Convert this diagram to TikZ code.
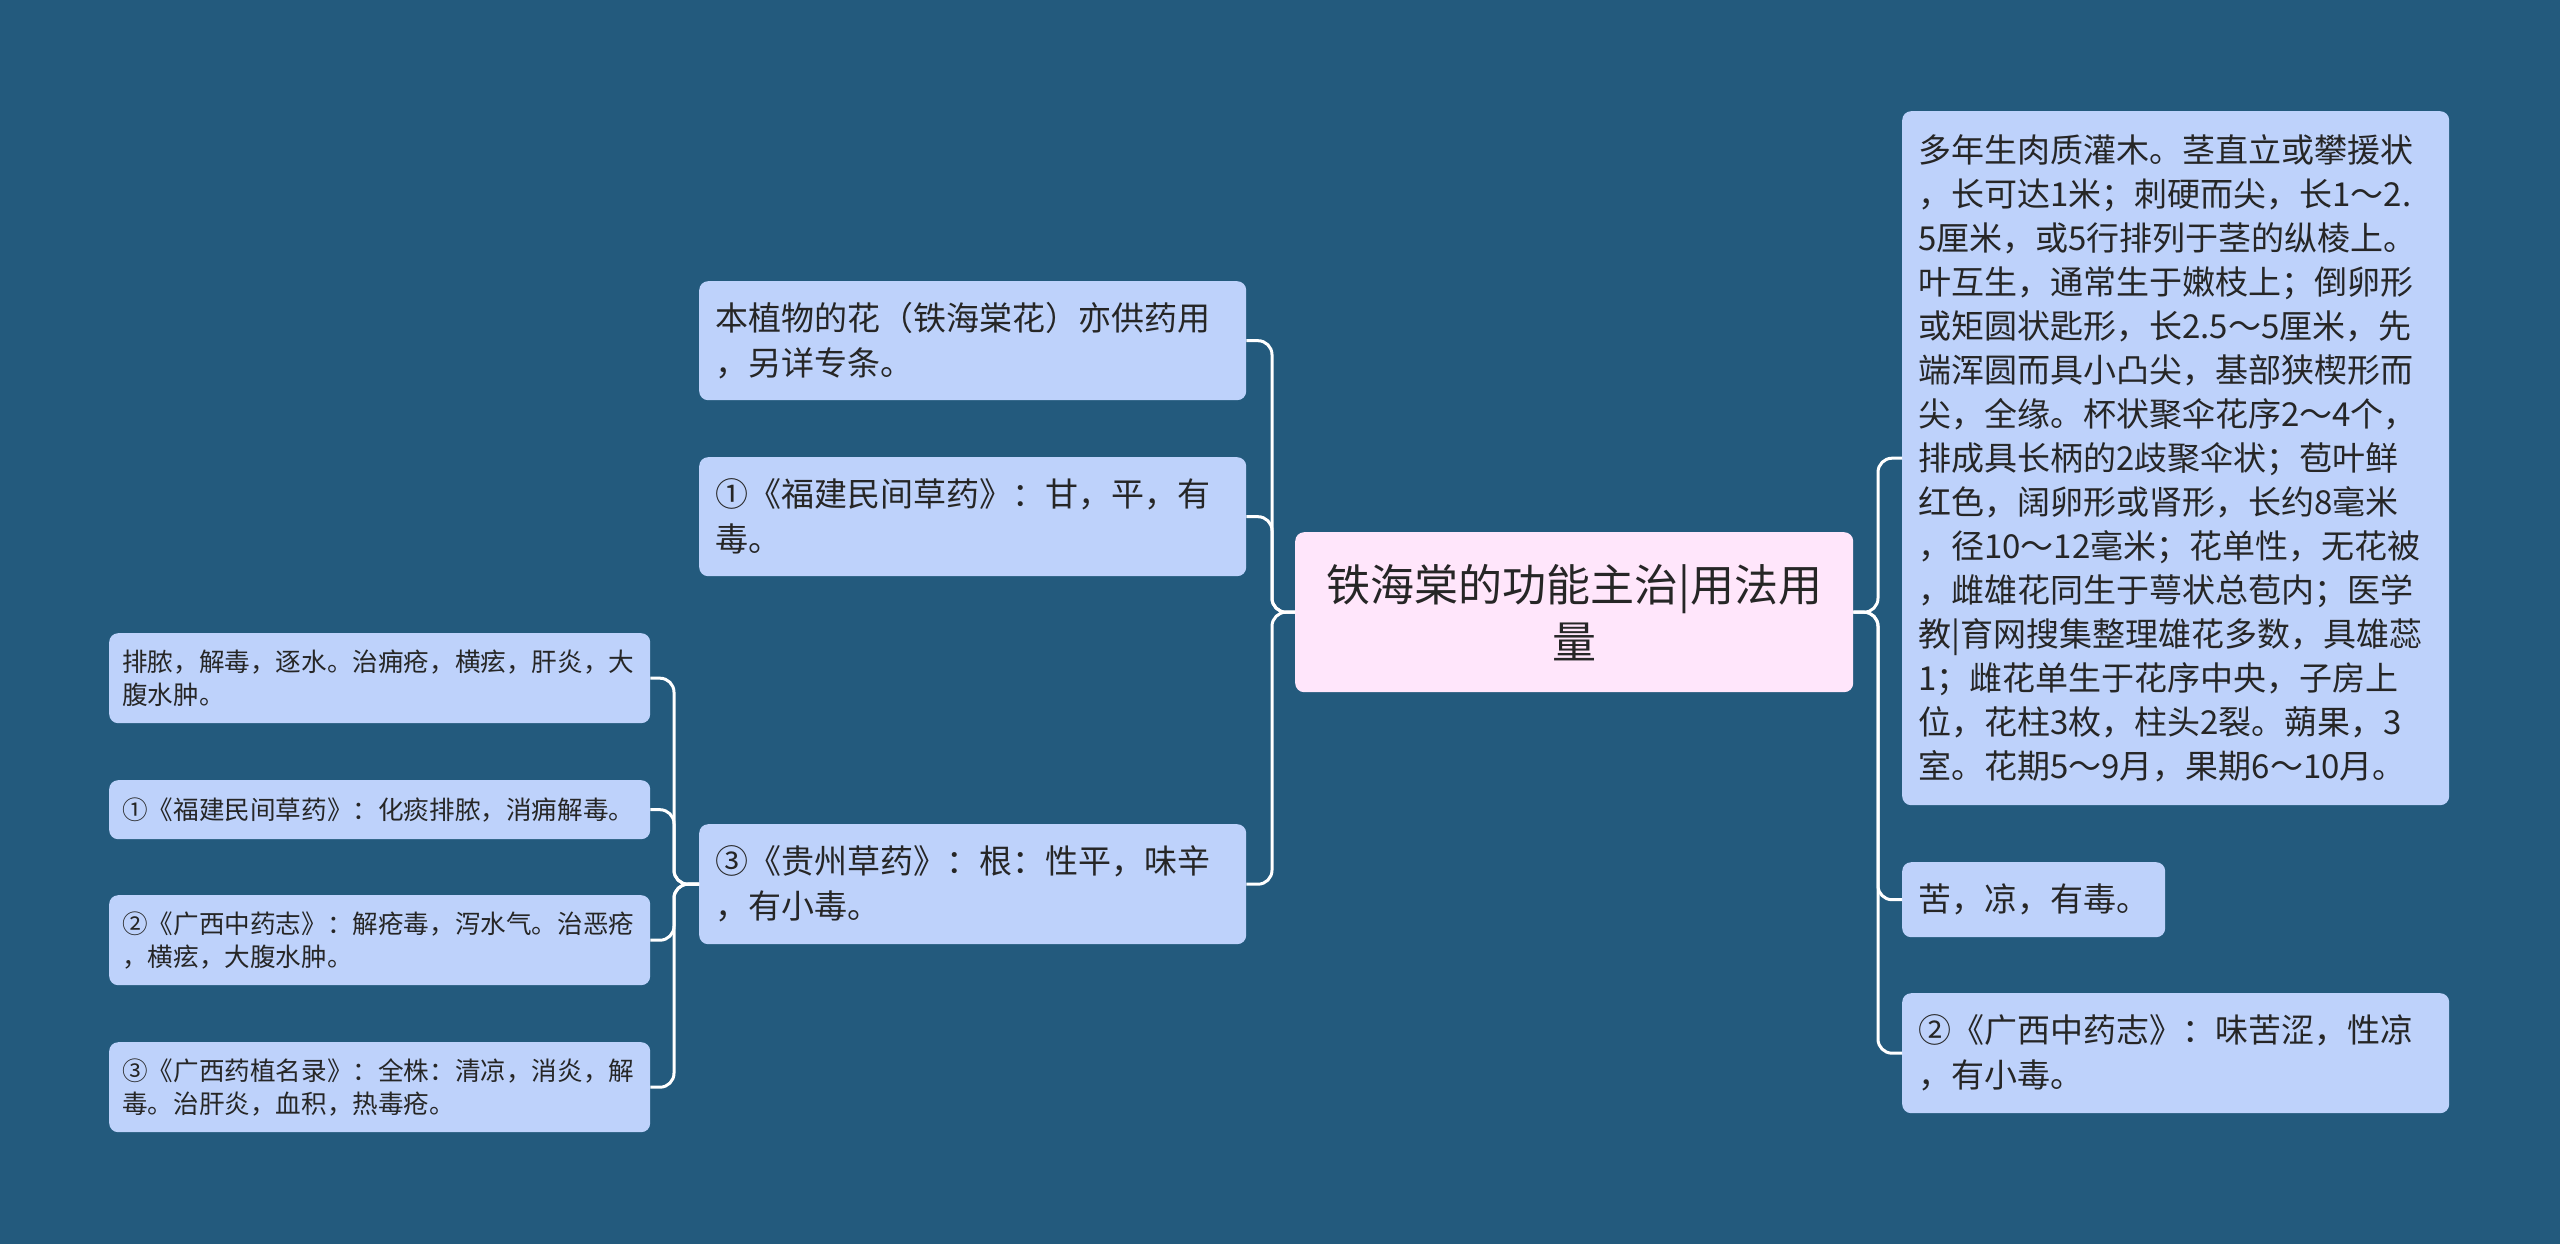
\documentclass[tikz,border=0pt]{standalone}
\usepackage{fontspec}
\setmainfont{Noto Sans CJK SC}
\definecolor{bg}{HTML}{235A7D}
\definecolor{nodefill}{HTML}{BED2FB}
\definecolor{rootfill}{HTML}{FFE6FB}
\definecolor{txt}{HTML}{262626}
\tikzset{
  box/.style={fill=nodefill, rounded corners=9pt, anchor=north west, align=left, inner ysep=0pt, text=txt},
  lone/.style={box, font=\fontsize{33}{45}\selectfont, inner xsep=16pt},
  ltwo/.style={box, font=\fontsize{25.6}{33}\selectfont, inner xsep=13pt},
  rootbox/.style={fill=rootfill, rounded corners=9pt, anchor=north west, align=center, inner xsep=10pt, inner ysep=0pt, text=txt, font=\fontsize{44}{57}\selectfont},
  conn/.style={draw=white, line width=3pt, rounded corners=14pt}
}
\begin{document}
\begin{tikzpicture}[x=1pt,y=-1pt]
\fill[bg] (0,0) rectangle (2560,1244);
\useasboundingbox (0,0) rectangle (2560,1244);

\node[rootbox, text width=538pt, minimum height=160pt] (root) at (1295,532) {铁海棠的功能主治|用法用\\量};

\node[lone, text width=515pt, minimum height=119pt] (A) at (699,281) {本植物的花（铁海棠花）亦供药用\\，另详专条。};
\node[lone, text width=515pt, minimum height=119pt] (B) at (699,457) {①《福建民间草药》：甘，平，有\\毒。};
\node[lone, text width=515pt, minimum height=120pt] (C) at (699,824) {③《贵州草药》：根：性平，味辛\\，有小毒。};

\node[ltwo, text width=515pt, minimum height=90pt] (C1) at (109,633) {排脓，解毒，逐水。治痈疮，横痃，肝炎，大\\腹水肿。};
\node[ltwo, text width=515pt, minimum height=59pt] (C2) at (109,780) {①《福建民间草药》：化痰排脓，消痈解毒。};
\node[ltwo, text width=515pt, minimum height=90pt] (C3) at (109,895) {②《广西中药志》：解疮毒，泻水气。治恶疮\\，横痃，大腹水肿。};
\node[ltwo, text width=515pt, minimum height=90pt] (C4) at (109,1042) {③《广西药植名录》：全株：清凉，消炎，解\\毒。治肝炎，血积，热毒疮。};

\node[lone, font=\fontsize{33}{44}\selectfont, text width=515pt, minimum height=694pt] (R1) at (1902,111) {多年生肉质灌木。茎直立或攀援状\\，长可达1米；刺硬而尖，长1～2.\\5厘米，或5行排列于茎的纵棱上。\\叶互生，通常生于嫩枝上；倒卵形\\或矩圆状匙形，长2.5～5厘米，先\\端浑圆而具小凸尖，基部狭楔形而\\尖，全缘。杯状聚伞花序2～4个，\\排成具长柄的2歧聚伞状；苞叶鲜\\红色，阔卵形或肾形，长约8毫米\\，径10～12毫米；花单性，无花被\\，雌雄花同生于萼状总苞内；医学\\教|育网搜集整理雄花多数，具雄蕊\\1；雌花单生于花序中央，子房上\\位，花柱3枚，柱头2裂。蒴果，3\\室。花期5～9月，果期6～10月。};
\node[lone, text width=231pt, minimum height=75pt] (R2) at (1902,862) {苦，凉，有毒。};
\node[lone, text width=515pt, minimum height=120pt] (R3) at (1902,993) {②《广西中药志》：味苦涩，性凉\\，有小毒。};

\coordinate (tl) at (1272,0);
\coordinate (tr) at (1878,0);
\coordinate (tc) at (674,0);

\foreach \n in {A,B,C}{
  \draw[conn] (root.west) -- (root.west -| tl) |- (\n.east);
}
\foreach \n in {R1,R2,R3}{
  \draw[conn] (root.east) -- (root.east -| tr) |- (\n.west);
}
\foreach \n in {C1,C2,C3,C4}{
  \draw[conn] (C.west) -- (C.west -| tc) |- (\n.east);
}
\end{tikzpicture}
\end{document}
